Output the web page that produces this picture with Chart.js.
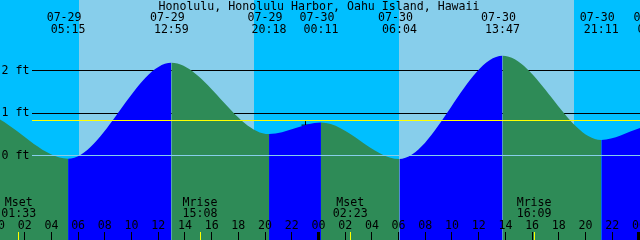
<!DOCTYPE html>
<html>
<head>
<meta charset="utf-8">
<script src="https://cdn.jsdelivr.net/npm/chart.js@4/dist/chart.umd.min.js"></script>
<style>
  html, body { margin: 0; padding: 0; background: #fff; }
  #wrap { width: 640px; height: 240px; }
</style>
</head>
<body>
<div id="wrap"><canvas id="tide" width="640" height="240"></canvas></div>
<script>
// station title
const title = 'Honolulu, Honolulu Harbor, Oahu Island, Hawaii';

// tide curve: hours since 07-29 00:00, height in feet
const tideHours = [0.15, 5.25, 12.983, 20.3, 24.183, 30.067, 37.783, 45.183, 48.08];
const tideFeet  = [0.84, -0.08, 2.18, 0.50, 0.77, -0.09, 2.34, 0.36, 0.64];

// high / low labels along the top
const eventHours = [5.25, 12.983, 20.3, 24.183, 30.067, 37.783, 45.183, 49.2];
const eventDates = ['07-29', '07-29', '07-29', '07-30', '07-30', '07-30', '07-30', '07-31'];
const eventTimes = ['05:15', '12:59', '20:18', '00:11', '06:04', '13:47', '21:11', '01:12'];

// moon events along the bottom
const moonHours = [1.55, 15.133, 26.383, 40.15];
const moonNames = ['Mset', 'Mrise', 'Mset', 'Mrise'];
const moonTimes = ['01:33', '15:08', '02:23', '16:09'];

// daylight
const sunrise = [6.07, 30.03];
const sunset  = [19.17, 43.14];

// axis
const hourTicks  = [0, 2, 4, 6, 8, 10, 12, 14, 16, 18, 20, 22, 24, 26, 28, 30, 32, 34, 36, 38, 40, 42, 44, 46, 48];
const hourLabels = ['00','02','04','06','08','10','12','14','16','18','20','22','00','02','04','06','08','10','12','14','16','18','20','22','00'];
const feetTicks  = [2, 1, 0];
const feetLabels = ['2 ft', '1 ft', '0 ft'];
const meanLevel = 0.82;

// "now" marker
const nowHour = 23.03;
const nowFeet = 0.71;

const NIGHT = '#00BFFF';
const DAY = '#87CEEB';
const RISING = '#0000FF';
const FALLING = '#2E8B57';
const FONT = '11.6px "DejaVu Sans Mono", monospace';

const tidePlugin = {
    id: 'tideDecor',
    beforeDatasetsDraw(chart) {
        const {ctx, chartArea: a} = chart;
        const xs = chart.scales.x, ys = chart.scales.y;
        ctx.save();
        // night / day columns
        ctx.fillStyle = NIGHT;
        ctx.fillRect(a.left, a.top, a.width, a.height);
        ctx.fillStyle = DAY;
        sunrise.forEach((r, i) => {
            const x0 = Math.round(xs.getPixelForValue(r));
            const x1 = Math.round(xs.getPixelForValue(sunset[i]));
            ctx.fillRect(x0, a.top, x1 - x0, a.height);
        });
        // black foot lines (behind the water)
        ctx.strokeStyle = '#000';
        ctx.lineWidth = 1;
        feetTicks.forEach(v => {
            if (v === 0) return;
            const py = Math.round(ys.getPixelForValue(v)) + 0.5;
            ctx.beginPath();
            ctx.moveTo(32, py);
            ctx.lineTo(a.right, py);
            ctx.stroke();
        });
        ctx.restore();
    },
    afterDatasetsDraw(chart) {
        const {ctx, chartArea: a} = chart;
        const xs = chart.scales.x, ys = chart.scales.y;
        ctx.save();
        ctx.lineWidth = 1;
        // 0 ft line and mean level on top of the water
        let py = Math.round(ys.getPixelForValue(0)) + 0.5;
        ctx.strokeStyle = DAY;
        ctx.beginPath(); ctx.moveTo(32, py); ctx.lineTo(a.right, py); ctx.stroke();
        py = Math.round(ys.getPixelForValue(meanLevel)) + 0.5;
        ctx.strokeStyle = '#FFFF00';
        ctx.beginPath(); ctx.moveTo(32, py); ctx.lineTo(a.right, py); ctx.stroke();

        ctx.fillStyle = '#000';
        ctx.font = FONT;
        ctx.textBaseline = 'middle';

        // feet labels
        ctx.textAlign = 'left';
        feetTicks.forEach((v, i) => {
            ctx.fillText(feetLabels[i], 1.5, ys.getPixelForValue(v) + 0.5);
        });

        // title + event labels
        ctx.textAlign = 'center';
        ctx.fillText(title, 319, 6.5);
        eventHours.forEach((h, i) => {
            const px = xs.getPixelForValue(h);
            ctx.fillText(eventDates[i], px - 4, 18);
            ctx.fillText(eventTimes[i], px, 30);
        });

        // moon labels
        moonHours.forEach((h, i) => {
            const px = xs.getPixelForValue(h);
            ctx.fillText(moonNames[i], px, 203);
            ctx.fillText(moonTimes[i], px, 214);
        });

        // hour labels and ticks
        hourTicks.forEach((h, i) => {
            const px = xs.getPixelForValue(h);
            ctx.fillStyle = '#000';
            ctx.fillText(hourLabels[i], px, 225.5);
            if (h % 24 === 0) {
                ctx.fillRect(Math.round(px - 1.5), 232, 3, 8);
            } else {
                ctx.fillRect(Math.round(px - 0.5), 232, 1, 8);
            }
        });
        ctx.fillStyle = '#FFFF00';
        moonHours.forEach(h => {
            const px = xs.getPixelForValue(h);
            ctx.fillRect(Math.round(px - 0.5), 232, 1, 8);
        });
        ctx.restore();
    }
};

const ctx = document.getElementById('tide').getContext('2d');
new Chart(ctx, {
    type: 'line',
    data: {
        datasets: [{
            data: tideHours.map((h, i) => ({x: h, y: tideFeet[i]})),
            borderColor: 'rgba(0,0,0,0)',
            borderWidth: 0,
            pointRadius: 0,
            cubicInterpolationMode: 'monotone',
            fill: 'start',
            backgroundColor: FALLING,
            segment: {
                backgroundColor: c => c.p1.parsed.y > c.p0.parsed.y ? RISING : FALLING
            }
        }, {
            data: [{x: nowHour, y: nowFeet}],
            showLine: false,
            pointStyle: 'cross',
            pointRadius: 4,
            borderColor: '#000',
            borderWidth: 1,
            fill: false
        }]
    },
    options: {
        responsive: false,
        animation: false,
        devicePixelRatio: 1,
        layout: { padding: 0, autoPadding: false },
        plugins: { legend: { display: false }, tooltip: { enabled: false } },
        scales: {
            x: { type: 'linear', min: 0.15, max: 48.08, display: false },
            y: { min: -1.993, max: 3.654, display: false }
        }
    },
    plugins: [tidePlugin]
});
</script>
</body>
</html>
